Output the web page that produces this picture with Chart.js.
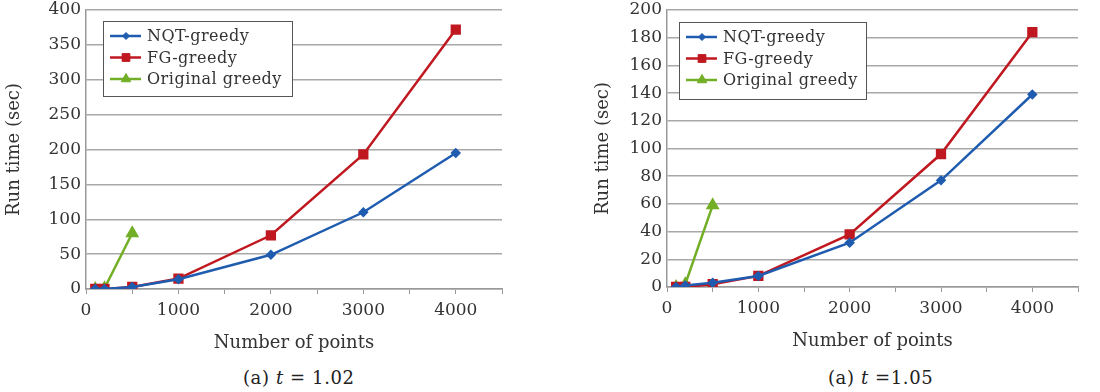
<!DOCTYPE html>
<html lang="en">
<head>
  <meta charset="UTF-8">
  <title>Run time vs number of points</title>
  <script src="https://cdn.jsdelivr.net/npm/chart.js@4.4.0/dist/chart.umd.min.js"></script>
  <style>
    body { margin: 0; background: #fff; width: 1100px; height: 392px; overflow: hidden; font-family: "DejaVu Serif", serif; }
    .panel { position: absolute; top: 0; width: 550px; height: 392px; }
    .panel canvas { position: absolute; left: 0; top: 0; }
    .caption { position: absolute; top: 367px; font-size: 18px; color: #222; letter-spacing: 0.6px; white-space: nowrap; }
  </style>
</head>
<body>
  <div class="panel" style="left:0">
    <canvas id="chartA" width="550" height="354"></canvas>
    <div class="caption" style="left:243px">(a) <i>t</i> = 1.02</div>
  </div>
  <div class="panel" style="left:550px">
    <canvas id="chartB" width="550" height="352"></canvas>
    <div class="caption" style="left:278px">(a) <i>t</i> =1.05</div>
  </div>

  <script>
    // x values (number of points)
    const pointsAll = [100, 200, 500, 1000, 2000, 3000, 4000];
    const pointsOrig = [100, 200, 500];

    // t = 1.02
    const nqtA = [0, 0, 3, 14, 49, 110, 195];
    const fgA = [0, 0, 3, 15, 77, 193, 372];
    const origA = [0, 1, 80];

    // t = 1.05
    const nqtB = [0, 1, 3, 8, 32, 77, 139];
    const fgB = [0, 0, 2, 8, 38, 96, 184];
    const origB = [0, 2, 59];

    const seriesNames = ['NQT-greedy', 'FG-greedy', 'Original greedy'];
    const colors = ['#1f5cb0', '#c01820', '#72ae26'];

    function pairs(xs, ys) {
      return xs.map((x, i) => ({ x: x, y: ys[i] }));
    }

    // legend box drawn inside the plot area
    const boxLegend = {
      id: 'boxLegend',
      afterDraw(chart, args, opts) {
        const ctx = chart.ctx;
        const a = chart.chartArea;
        const x0 = a.left + opts.dx, y0 = a.top + opts.dy;
        ctx.save();
        ctx.fillStyle = '#fff';
        ctx.fillRect(x0, y0, opts.w, opts.h);
        ctx.strokeStyle = '#555';
        ctx.lineWidth = 1;
        ctx.strokeRect(x0 + 0.5, y0 + 0.5, opts.w, opts.h);
        ctx.font = '16px "DejaVu Serif"';
        ctx.letterSpacing = '0.5px';
        ctx.textBaseline = 'middle';
        chart.data.datasets.forEach((ds, i) => {
          const cy = y0 + 15 + i * 21.5;
          ctx.strokeStyle = ds.borderColor;
          ctx.fillStyle = ds.backgroundColor;
          ctx.lineWidth = 2.5;
          ctx.beginPath();
          ctx.moveTo(x0 + 7, cy);
          ctx.lineTo(x0 + 38, cy);
          ctx.stroke();
          ctx.lineWidth = 1;
          Chart.helpers.drawPoint(ctx, {
            pointStyle: ds.pointStyle, radius: ds.pointRadius, borderWidth: 1
          }, x0 + 23, cy);
          ctx.fillStyle = '#333';
          ctx.fillText(ds.label, x0 + 44, cy + 1);
        });
        ctx.restore();
      }
    };

    function makeChart(id, nqt, fg, orig, yMax, yStep, padLeft, yWidth, padRight, legend) {
      const ctx = document.getElementById(id).getContext('2d');
      return new Chart(ctx, {
        type: 'line',
        data: {
          datasets: [
            { label: seriesNames[0], data: pairs(pointsAll, nqt), borderColor: colors[0], backgroundColor: colors[0],
              pointStyle: 'rectRot', pointRadius: 3.5, borderWidth: 2.5 },
            { label: seriesNames[1], data: pairs(pointsAll, fg), borderColor: colors[1], backgroundColor: colors[1],
              pointStyle: 'rect', pointRadius: 5.5, borderWidth: 2.5 },
            { label: seriesNames[2], data: pairs(pointsOrig, orig), borderColor: colors[2], backgroundColor: colors[2],
              pointStyle: 'triangle', pointRadius: 5.5, borderWidth: 2.5 }
          ]
        },
        options: {
          responsive: false,
          animation: false,
          layout: { padding: { top: 10, right: padRight, bottom: 0, left: padLeft } },
          plugins: {
            legend: { display: false },
            tooltip: { enabled: false },
            boxLegend: legend
          },
          scales: {
            x: {
              type: 'linear',
              min: 0, max: 4500,
              grid: { drawOnChartArea: false, drawTicks: true, tickLength: 5, color: '#999' },
              border: { color: '#999', width: 1.5 },
              ticks: {
                stepSize: 500,
                autoSkip: false,
                maxRotation: 0,
                color: '#333',
                font: { family: 'DejaVu Serif', size: 17 },
                padding: 6,
                callback: v => (v % 1000 === 0 ? String(v) : '')
              },
              title: {
                display: true,
                text: 'Number of points',
                color: '#333',
                font: { family: 'DejaVu Serif', size: 18 },
                padding: { top: 6, bottom: 0 }
              },
              afterFit: s => { s.height = 65; }
            },
            y: {
              min: 0, max: yMax,
              grid: { color: '#a8a8a8', lineWidth: 1.5, drawTicks: false },
              border: { color: '#999', width: 1.5 },
              ticks: {
                stepSize: yStep,
                color: '#333',
                font: { family: 'DejaVu Serif', size: 17 },
                padding: 5
              },
              title: {
                display: true,
                text: 'Run time (sec)',
                color: '#333',
                font: { family: 'DejaVu Serif', size: 18 },
                padding: { top: 0, bottom: 4 }
              },
              afterFit: s => { s.width = yWidth; s.paddingTop = 0; s.paddingBottom = 0; }
            }
          }
        },
        plugins: [boxLegend]
      });
    }

    makeChart('chartA', nqtA, fgA, origA, 400, 50, 4, 82, 48, { dx: 17, dy: 11, w: 189, h: 75 });
    makeChart('chartB', nqtB, fgB, origB, 200, 20, 43, 74, 22, { dx: 12, dy: 12, w: 187, h: 77 });
  </script>
</body>
</html>
